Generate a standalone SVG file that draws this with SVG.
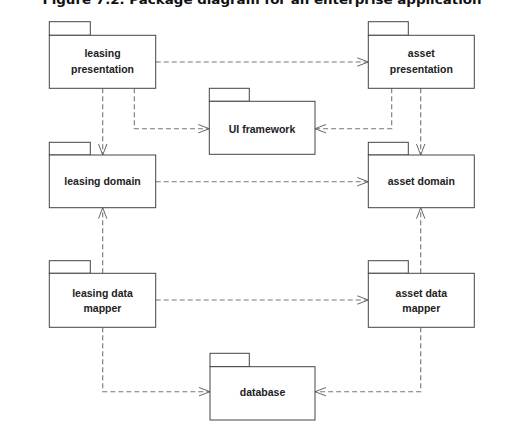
<svg xmlns="http://www.w3.org/2000/svg" width="532" height="427" viewBox="0 0 532 427">
<style>
.pkg{fill:#fff;stroke:#444;stroke-width:1}
.lbl{font-family:"Liberation Sans",Arial,sans-serif;font-weight:bold;font-size:10.5px;fill:#222;text-anchor:middle}
.dep{fill:none;stroke:#777;stroke-width:1.1;stroke-dasharray:5,3}
.title{font-family:"DejaVu Sans",Verdana,sans-serif;font-weight:bold;font-size:12.5px;fill:#111;text-anchor:middle}
</style>
<defs>
<marker id="open" viewBox="0 0 12 10" refX="11.5" refY="5" markerWidth="12" markerHeight="10" markerUnits="userSpaceOnUse" orient="auto">
<path d="M0.5,0.8 L11.5,5 L0.5,9.2" fill="none" stroke="#666" stroke-width="1"/>
</marker>
</defs>
<rect width="532" height="427" fill="#fff"/>
<text class="title" x="262" y="4" textLength="439" lengthAdjust="spacingAndGlyphs">Figure 7.2. Package diagram for an enterprise application</text>

<g id="connectors">
<path class="dep" d="M155.7,62 H368.3" marker-end="url(#open)"/>
<path class="dep" d="M134.3,88.3 V128.7 H209.3" marker-end="url(#open)"/>
<path class="dep" d="M391.7,88.3 V128.7 H315" marker-end="url(#open)"/>
<path class="dep" d="M102.7,88.3 V155" marker-end="url(#open)"/>
<path class="dep" d="M420.7,88.3 V155" marker-end="url(#open)"/>
<path class="dep" d="M155.7,181.7 H368.3" marker-end="url(#open)"/>
<path class="dep" d="M102.7,273.3 V207.7" marker-end="url(#open)"/>
<path class="dep" d="M420.7,273.3 V207.7" marker-end="url(#open)"/>
<path class="dep" d="M155.7,300 H368.3" marker-end="url(#open)"/>
<path class="dep" d="M102.7,327.3 V391.7 H210" marker-end="url(#open)"/>
<path class="dep" d="M420.7,327.3 V391.7 H315" marker-end="url(#open)"/>
</g>

<g id="leasing-presentation">
<rect class="pkg" x="49.3" y="21.7" width="41" height="13.6"/>
<rect class="pkg" x="49.3" y="35.3" width="106.4" height="53"/>
<text class="lbl" x="102.5" y="57.3">leasing</text>
<text class="lbl" x="102.5" y="72.7">presentation</text>
</g>

<g id="asset-presentation">
<rect class="pkg" x="368.3" y="21.7" width="40" height="13.6"/>
<rect class="pkg" x="368.3" y="35.3" width="106" height="53"/>
<text class="lbl" x="421.3" y="57.3">asset</text>
<text class="lbl" x="421.3" y="72.7">presentation</text>
</g>

<g id="ui-framework">
<rect class="pkg" x="209.3" y="88.3" width="40" height="13"/>
<rect class="pkg" x="209.3" y="101.3" width="105.7" height="53"/>
<text class="lbl" x="262" y="132.5">UI framework</text>
</g>

<g id="leasing-domain">
<rect class="pkg" x="49.3" y="142.3" width="41" height="12.7"/>
<rect class="pkg" x="49.3" y="155" width="106.4" height="52.7"/>
<text class="lbl" x="102.5" y="185">leasing domain</text>
</g>

<g id="asset-domain">
<rect class="pkg" x="368.3" y="142.3" width="40" height="12.7"/>
<rect class="pkg" x="368.3" y="155" width="106" height="52.7"/>
<text class="lbl" x="421.3" y="185">asset domain</text>
</g>

<g id="leasing-data-mapper">
<rect class="pkg" x="49.3" y="260.7" width="41" height="12.6"/>
<rect class="pkg" x="49.3" y="273.3" width="106.4" height="54"/>
<text class="lbl" x="102.5" y="296.7">leasing data</text>
<text class="lbl" x="102.5" y="312.3">mapper</text>
</g>

<g id="asset-data-mapper">
<rect class="pkg" x="368.3" y="260.7" width="40" height="12.6"/>
<rect class="pkg" x="368.3" y="273.3" width="106" height="54"/>
<text class="lbl" x="421.3" y="296.7">asset data</text>
<text class="lbl" x="421.3" y="312.3">mapper</text>
</g>

<g id="database">
<rect class="pkg" x="210" y="353.3" width="39.3" height="13.4"/>
<rect class="pkg" x="210" y="366.7" width="105" height="53.3"/>
<text class="lbl" x="262.5" y="396">database</text>
</g>
</svg>
